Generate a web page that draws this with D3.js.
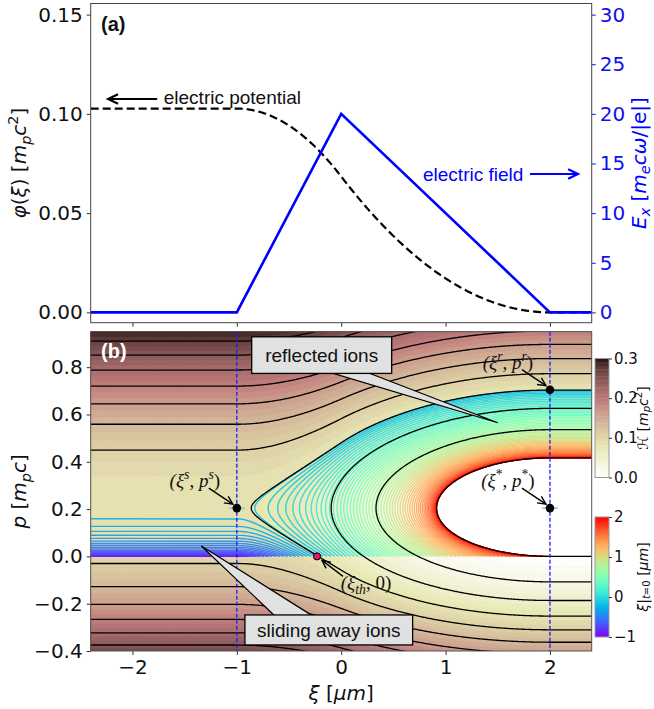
<!DOCTYPE html>
<html><head><meta charset="utf-8">
<script src="https://cdn.jsdelivr.net/npm/d3@7"></script>
<style>
body{margin:0;background:#fff;}
svg{display:block;font-family:"DejaVu Sans",sans-serif;}
</style></head><body>
<svg id="chart" width="654" height="709"></svg>
<script>
// ---------------- data ----------------
const fieldXi = [-2.4, -1, 0, 2, 2.4];          // ξ [µm]
const fieldEx = [0, 0, 20, 0, 0];               // E_x [m_e c ω/|e|]
const fieldToPotential = 2 * Math.PI / 1836.15; // ∫E dξ -> φ [m_p c^2] (λ = 1 µm)
const waveBeta = 0.2;                           // frame velocity
const xiTicks = [-2, -1, 0, 1, 2];
const phiTicks = [0, 0.05, 0.10, 0.15];
const eTicks = [0, 5, 10, 15, 20, 25, 30];
const pTicks = [-0.4, -0.2, 0, 0.2, 0.4, 0.6, 0.8];
const hBarTicks = [0, 0.1, 0.2, 0.3];
const xi0BarTicks = [-1, 0, 1, 2];
const hContourLevels = [0, 0.0273, 0.0545, 0.0818, 0.1091, 0.1364, 0.1636, 0.1909, 0.2182, 0.2455, 0.2727, 0.3];
const hRange = [0, 0.3];
const xi0Range = [-1, 2];
const xi0Count = 81;
const fillBandCount = 33;
const fieldStartXi = -1, fieldEndXi = 2;

// ---------------- layout ----------------
const L = 90.7, R = 591.7;
const topT = 3.5, topB = 322.7, botT = 331.7, botB = 651;
const SANS = '"Liberation Sans", Arial, sans-serif', DJV = '"DejaVu Sans", sans-serif', SERIF = '"Liberation Serif", "DejaVu Serif", serif';
const svg = d3.select('#chart');
const defs = svg.append('defs');
defs.append('clipPath').attr('id','clipTop').append('rect').attr('x',L).attr('y',topT).attr('width',R-L).attr('height',topB-topT);
defs.append('clipPath').attr('id','clipBot').append('rect').attr('x',L).attr('y',botT).attr('width',R-L).attr('height',botB-botT);

const x = d3.scaleLinear().domain([-2.4, 2.4]).range([L, R]);
const yPhi = d3.scaleLinear().domain([-0.0052, 0.1556]).range([topB, topT]);
const yE = d3.scaleLinear().domain([-1.04, 31.12]).range([topB, topT]);
const yP = d3.scaleLinear().domain([-0.4, 0.95]).range([botB, botT]);
const cbH = d3.scaleLinear().domain(hRange).range([477.5, 358.5]);
const cbXi = d3.scaleLinear().domain(xi0Range).range([637, 517]);

// ---------------- physics helpers ----------------
const cl = a => Math.max(0, Math.min(1, a));
const cum = [0];
for (let i = 1; i < fieldXi.length; i++) cum.push(cum[i-1] + (fieldXi[i]-fieldXi[i-1])*(fieldEx[i]+fieldEx[i-1])/2);
const total = cum[cum.length-1];
function intTo(xi){
  xi = Math.max(fieldXi[0], Math.min(fieldXi[fieldXi.length-1], xi));
  let i = 0; while (i < fieldXi.length-2 && xi > fieldXi[i+1]) i++;
  const t = (xi-fieldXi[i])/(fieldXi[i+1]-fieldXi[i]);
  const e = fieldEx[i] + t*(fieldEx[i+1]-fieldEx[i]);
  return cum[i] + (xi-fieldXi[i])*(fieldEx[i]+e)/2;
}
const phi = xi => fieldToPotential*(total - intTo(xi));
const phiMax = phi(fieldXi[0]);
const gam = 1/Math.sqrt(1-waveBeta*waveBeta);
const pStar = waveBeta*gam;
const fP = p => Math.sqrt(1+p*p) - 1 - waveBeta*p;
const fMin = 1/gam - 1;
function roots(c){
  const base = gam*gam*waveBeta*(1+c);
  const d = gam*gam*Math.sqrt(Math.max(0,(1+c)*(1+c) - 1/(gam*gam)));
  return [base-d, base+d];
}
function phiInv(target){
  let lo = fieldXi[0], hi = fieldXi[fieldXi.length-1];
  for (let k=0;k<60;k++){ const m=(lo+hi)/2; if (phi(m) >= target) lo=m; else hi=m; }
  return (lo+hi)/2;
}
const Hfun = (xi,p) => fP(p) + phi(xi);

function pinkR(v){
  const xx = 1 - cl(v);
  const hr = cl(0.0416 + (1-0.0416)*xx/0.365079);
  const hg = cl((xx-0.365079)/(0.746032-0.365079));
  const hb = cl((xx-0.746032)/(1-0.746032));
  return d3.rgb(255*Math.sqrt((2*xx+hr)/3), 255*Math.sqrt((2*xx+hg)/3), 255*Math.sqrt((2*xx+hb)/3)).formatHex();
}
function rainbow(v){
  const t = cl(v);
  return d3.rgb(255*cl(Math.abs(2*t-0.5)), 255*cl(Math.sin(Math.PI*t)), 255*cl(Math.cos(Math.PI*t/2))).formatHex();
}

function rich(sel, parts, size, subK){
  let cur = 0;
  const sk = subK === undefined ? 0.25 : subK;
  parts.forEach(([s, st='']) => {
    const sub = st.includes('_'), sup = st.includes('^');
    const off = sub ? sk*size : sup ? -0.42*size : 0;
    const ts = sel.append('tspan').text(s).attr('dy', off-cur);
    cur = off;
    if (st.includes('i')) ts.style('font-style','italic');
    if (sub||sup) ts.style('font-size', (size*0.72)+'px');
  });
}
function txt(g, xx, yy, size, family, fill){
  return g.append('text').attr('x',xx).attr('y',yy).style('font-size',size+'px').style('font-family',family).attr('fill',fill||'#111');
}
function arrowLine(g, x1,y1,x2,y2,color,w,hl){
  g.append('line').attr('x1',x1).attr('y1',y1).attr('x2',x2).attr('y2',y2).attr('stroke',color).attr('stroke-width',w);
  const a = Math.atan2(y2-y1,x2-x1);
  const pts = [[x2-hl*Math.cos(a-0.45), y2-hl*Math.sin(a-0.45)],[x2,y2],[x2-hl*Math.cos(a+0.45), y2-hl*Math.sin(a+0.45)]];
  g.append('polyline').attr('points',pts.map(p=>p.join(',')).join(' ')).attr('fill','none').attr('stroke',color).attr('stroke-width',w).attr('stroke-linejoin','miter');
}
function styleAxis(a, size){ a.select('.domain').remove(); a.selectAll('text').style('font-size',size+'px').style('font-family',DJV).attr('fill','#111'); a.selectAll('line').attr('stroke','#333'); }

// =============== TOP PANEL ===============
const topG = svg.append('g');
const xsamp = d3.range(0, 481).map(i => -2.4 + i*0.01);
topG.append('path').attr('clip-path','url(#clipTop)')
  .attr('d', d3.line().x(d=>x(d)).y(d=>yPhi(phi(d)))(xsamp))
  .attr('fill','none').attr('stroke','#000').attr('stroke-width',2.2).attr('stroke-dasharray','8,4');
topG.append('path').attr('clip-path','url(#clipTop)')
  .attr('d', d3.line().x((d,i)=>x(fieldXi[i])).y((d,i)=>yE(fieldEx[i]))(fieldXi))
  .attr('fill','none').attr('stroke','#0000ff').attr('stroke-width',2.6);

const axL = topG.append('g').attr('transform',`translate(${L},0)`).call(d3.axisLeft(yPhi).tickValues(phiTicks).tickFormat(d3.format('.2f')).tickSize(4).tickPadding(4));
const axRt = topG.append('g').attr('transform',`translate(${R},0)`).call(d3.axisRight(yE).tickValues(eTicks).tickFormat(d3.format('d')).tickSize(4).tickPadding(4));
const axBt = topG.append('g').attr('transform',`translate(0,${topB})`).call(d3.axisBottom(x).tickValues(xiTicks).tickFormat('').tickSize(4));
[axL, axRt, axBt].forEach(a => styleAxis(a, 20));
axRt.selectAll('text').attr('fill','#1010ee'); axRt.selectAll('line').attr('stroke','#1010ee');
topG.append('rect').attr('x',L).attr('y',topT).attr('width',R-L).attr('height',topB-topT).attr('fill','none').attr('stroke','#444').attr('stroke-width',1);

txt(topG, 101, 31, 20, SANS).style('font-weight','bold').text('(a)');
txt(topG, x(-1.70), yPhi(0.1052), 19, SANS).text('electric potential');
arrowLine(topG, x(-1.763), yPhi(0.1075), x(-2.233), yPhi(0.1075), '#000', 2.2, 11);
txt(topG, x(0.784), yE(13.24), 19, SANS, '#0000ff').text('electric field');
arrowLine(topG, x(1.809), yE(13.94), x(2.269), yE(13.94), '#0000ff', 2.2, 11);

const tl = txt(topG, 0, 0, 20, DJV).attr('x',null).attr('y',null).attr('transform',`translate(26,${(topT+topB)/2}) rotate(-90)`).attr('text-anchor','middle');
rich(tl, [['φ','i'],['('],['ξ','i'],[') ['],['m','i'],['p','_i'],['c','i'],['2','^'],[']']], 20);
const tr = txt(topG, 0, 0, 20, DJV, '#0000ff').attr('x',null).attr('y',null).attr('transform',`translate(646,${(topT+topB)/2}) rotate(-90)`).attr('text-anchor','middle');
rich(tr, [['E','i'],['x','_i'],['  ['],['m','i'],['e','_i'],['cω','i'],['/|e|]']], 20, 0.2);

// =============== BOTTOM PANEL ===============
const botG = svg.append('g');
const gdx = 0.01, gdy = 0.005, gx0 = -2.46, gy0 = -0.46;
const nx = 493, ny = 295;
const values = new Float64Array(nx*ny);
for (let j=0;j<ny;j++) for (let i=0;i<nx;i++) values[j*nx+i] = Hfun(gx0+i*gdx, gy0+j*gdy);
const proj = d3.geoTransform({point: function(gx, gy){ this.stream.point(x(gx0+(gx-0.5)*gdx), yP(gy0+(gy-0.5)*gdy)); }});
const gpath = d3.geoPath(proj);
const bandStep = (hRange[1]-hRange[0])/fillBandCount;
const fillLevels = d3.range(fillBandCount).map(i => hRange[0] + i*bandStep);
const fills = d3.contours().size([nx,ny]).thresholds(fillLevels)(values);
const bgG = botG.append('g').attr('clip-path','url(#clipBot)');
bgG.append('rect').attr('x',L).attr('y',botT).attr('width',R-L).attr('height',botB-botT).attr('fill','#fff');
fills.forEach(c => {
  const col = pinkR((c.value + bandStep/2 - hRange[0])/(hRange[1]-hRange[0]));
  bgG.append('path').attr('d', gpath(c)).attr('fill', col).attr('stroke', col).attr('stroke-width',0.3);
});

const xi0List = d3.range(xi0Count).map(i => xi0Range[0] + (xi0Range[1]-xi0Range[0])*i/(xi0Count-1));
const lineGen = d3.line().x(d=>x(d[0])).y(d=>yP(d[1]));
const trajG = botG.append('g').attr('clip-path','url(#clipBot)');
const sepH = phiMax + fMin;
xi0List.forEach(xi0 => {
  const H0 = phi(xi0);
  const pts = [];
  if (H0 > sepH) {
    const pEnd = roots(H0 - phiMax)[0];
    const N = 120;
    for (let k=0;k<=N;k++){ const p = pEnd*k/N; pts.push([phiInv(H0 - fP(p)), p]); }
    pts.push([-2.4, pEnd]);
  } else {
    const pf = roots(H0)[1];
    const N1 = 100, N2 = 200;
    for (let k=0;k<=N1;k++){ const p = pStar*k/N1; pts.push([phiInv(H0 - fP(p)), p]); }
    for (let k=1;k<N2;k++){ const p = pStar + (pf-pStar)*k/N2; pts.push([phiInv(H0 - fP(p)), p]); }
    pts.push([fieldEndXi, pf]);
    pts.push([2.4, pf]);
  }
  pts[0] = [xi0, 0];
  trajG.append('path').attr('d', lineGen(pts)).attr('fill','none')
    .attr('stroke', rainbow((xi0-xi0Range[0])/(xi0Range[1]-xi0Range[0]))).attr('stroke-width',1.4).attr('stroke-opacity',0.9);
});

const lines = d3.contours().size([nx,ny]).thresholds(hContourLevels)(values);
const lg = botG.append('g').attr('clip-path','url(#clipBot)');
lines.forEach(c => lg.append('path').attr('d', gpath(c)).attr('fill','none').attr('stroke','#000').attr('stroke-width',1.3));

[fieldStartXi, fieldEndXi].forEach(v => botG.append('line').attr('x1',x(v)).attr('x2',x(v)).attr('y1',botT).attr('y2',botB)
  .attr('stroke','#1a1aff').attr('stroke-width',1.3).attr('stroke-dasharray','4,2'));

const axL2 = botG.append('g').attr('transform',`translate(${L},0)`).call(d3.axisLeft(yP).tickValues(pTicks).tickFormat(d3.format('.1f')).tickSize(4).tickPadding(4));
const axB2 = botG.append('g').attr('transform',`translate(0,${botB})`).call(d3.axisBottom(x).tickValues(xiTicks).tickFormat(d3.format('d')).tickSize(4).tickPadding(5));
[axL2, axB2].forEach(a => styleAxis(a, 20));
botG.append('rect').attr('x',L).attr('y',botT).attr('width',R-L).attr('height',botB-botT).attr('fill','none').attr('stroke','#555').attr('stroke-width',1);

txt(botG, 101, 358, 20, SANS, '#fff').style('font-weight','bold').text('(b)');

function boxAnno(cx, cy, w, h, label, tip, baseDx, halfW){
  const g = botG.append('g');
  const bX = cx + baseDx, bY = cy;
  const tx = x(tip[0]), ty = yP(tip[1]);
  const dx = tx-bX, dy = ty-bY, len = Math.hypot(dx,dy);
  const px = -dy/len, py = dx/len;
  g.append('polygon').attr('points', [[bX+px*halfW, bY+py*halfW],[tx,ty],[bX-px*halfW, bY-py*halfW]].map(p=>p.join(',')).join(' '))
    .attr('fill','#e1e1e1').attr('stroke','#000').attr('stroke-width',1.2).attr('stroke-linejoin','miter');
  g.append('rect').attr('x',cx-w/2).attr('y',cy-h/2).attr('width',w).attr('height',h).attr('fill','#e1e1e1').attr('stroke','#000').attr('stroke-width',1.3);
  txt(g, cx, cy+7, 19, SANS).attr('text-anchor','middle').text(label);
}
boxAnno(x(-0.187), yP(0.851), 140, 36.6, 'reflected ions', [1.5, 0.565], -21.7, 8);
boxAnno(x(-0.119), yP(-0.311), 167.7, 30, 'sliding away ions', [-1.34, 0.044], -19.4, 13.7);

const xiTh = phiInv(sepH);
const pR = roots(sepH)[1];
const ptsSpecial = [
  {xi: fieldStartXi, p: pStar, lab: [['(ξ','i'],['s','^i'],[', '],['p','i'],['s','^i'],[')']], tick: true},
  {xi: fieldEndXi, p: pR, lab: [['(ξ','i'],['r','^i'],[', '],['p','i'],['r','^i'],[')']], tick: false},
  {xi: fieldEndXi, p: pStar, lab: [['(ξ','i'],['*','^'],[', '],['p','i'],['*','^'],[')']], tick: true}
];
const ann = botG.append('g');
ptsSpecial.forEach(s => {
  const px = x(s.xi), py = yP(s.p);
  if (s.tick) ann.append('line').attr('x1',px-8).attr('x2',px+8).attr('y1',py).attr('y2',py).attr('stroke','#8ec0ea').attr('stroke-width',1.5);
  ann.append('circle').attr('cx',px).attr('cy',py).attr('r',4.3).attr('fill','#000');
  const t = txt(ann, px-42, py-21, 19, SERIF).attr('text-anchor','middle');
  rich(t, s.lab, 19);
  arrowLine(ann, px-28, py-20, px-4, py-4, '#000', 1.4, 9);
});
{
  const px = x(xiTh), py = yP(0);
  ann.append('circle').attr('cx',px).attr('cy',py).attr('r',3.6).attr('fill','#e3176d').attr('stroke','#000').attr('stroke-width',1);
  const t = txt(ann, px+49, py+33, 19, SERIF).attr('text-anchor','middle');
  rich(t, [['(ξ','i'],['th','_i'],[', 0)']], 19);
  arrowLine(ann, px+26, py+20, px+5, py+4, '#000', 1.4, 9);
}

const bl = txt(botG, 0, 0, 20, DJV).attr('x',null).attr('y',null).attr('transform',`translate(26,${(botT+botB)/2}) rotate(-90)`).attr('text-anchor','middle');
rich(bl, [['p','i'],[' ['],['m','i'],['p','_i'],['c','i'],[']']], 20);
const bxl = txt(botG, (L+R)/2, 700, 20, DJV).attr('text-anchor','middle');
rich(bxl, [['ξ','i'],[' ['],['μm','i'],[']']], 20);

// =============== COLORBARS ===============
const cbx = 595, cbw = 14;
const cb1 = svg.append('g');
fillLevels.forEach(t => {
  cb1.append('rect').attr('x',cbx).attr('y',cbH(t+bandStep)).attr('width',cbw).attr('height',cbH(t)-cbH(t+bandStep)+0.3)
    .attr('fill', pinkR((t+bandStep/2-hRange[0])/(hRange[1]-hRange[0])));
});
cb1.append('rect').attr('x',cbx).attr('y',cbH(hRange[1])).attr('width',cbw).attr('height',cbH(hRange[0])-cbH(hRange[1])).attr('fill','none').attr('stroke','#999').attr('stroke-width',1);
const cbAx1 = cb1.append('g').attr('transform',`translate(${cbx+cbw},0)`).call(d3.axisRight(cbH).tickValues(hBarTicks).tickFormat(d3.format('.1f')).tickSize(3).tickPadding(2));
const gradId = 'rbw';
const grad = defs.append('linearGradient').attr('id',gradId).attr('x1',0).attr('y1',1).attr('x2',0).attr('y2',0);
d3.range(21).forEach(i => grad.append('stop').attr('offset', i/20).attr('stop-color', rainbow(i/20)));
const cb2 = svg.append('g');
cb2.append('rect').attr('x',cbx).attr('y',cbXi(xi0Range[1])).attr('width',cbw).attr('height',cbXi(xi0Range[0])-cbXi(xi0Range[1])).attr('fill',`url(#${gradId})`).attr('stroke','#999').attr('stroke-width',1);
const cbAx2 = cb2.append('g').attr('transform',`translate(${cbx+cbw},0)`).call(d3.axisRight(cbXi).tickValues(xi0BarTicks).tickFormat(d3.format('d')).tickSize(3).tickPadding(2));
[cbAx1, cbAx2].forEach(a => styleAxis(a, 15));
const c1l = txt(svg, 0, 0, 14, DJV).attr('x',null).attr('y',null).attr('transform',`translate(648,${(cbH(0)+cbH(0.3))/2}) rotate(-90)`).attr('text-anchor','middle');
rich(c1l, [['ℋ','i'],[' ['],['m','i'],['p','_i'],['c','i'],['2','^'],[']']], 14, 0.15);
const c2l = txt(svg, 0, 0, 14, DJV).attr('x',null).attr('y',null).attr('transform',`translate(648,${(cbXi(-1)+cbXi(2))/2}) rotate(-90)`).attr('text-anchor','middle');
rich(c2l, [['ξ','i'],['|'],['t','_i'],['=0','_'],[' ['],['μm','i'],[']']], 14, 0.15);
</script>
</body></html>
